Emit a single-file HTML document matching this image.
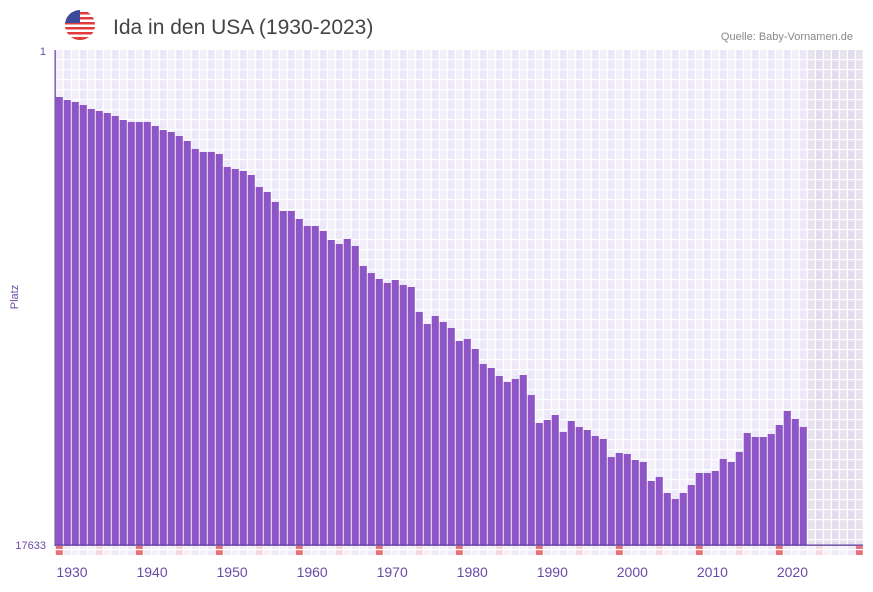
<!DOCTYPE html>
<html><head><meta charset="utf-8"><style>
body{margin:0;background:#fff;width:873px;height:587px;overflow:hidden;font-family:"Liberation Sans",sans-serif}
</style></head><body>
<svg id="s" width="873" height="587" xmlns="http://www.w3.org/2000/svg">
<defs><clipPath id="fc"><circle cx="80" cy="25" r="15"/></clipPath></defs>
<g clip-path="url(#fc)">
<rect x="65" y="10" width="30" height="30" fill="#fff"/>
<rect x="65" y="12" width="30" height="2.5" fill="#e23b3b"/>
<rect x="65" y="17" width="30" height="2.5" fill="#e23b3b"/>
<rect x="65" y="22" width="30" height="2.5" fill="#e23b3b"/>
<rect x="65" y="27" width="30" height="2.5" fill="#e23b3b"/>
<rect x="65" y="32" width="30" height="2.5" fill="#e23b3b"/>
<rect x="65" y="37" width="30" height="3" fill="#e23b3b"/>
<rect x="65" y="10" width="15" height="13" fill="#3b4a9a"/>
</g>
<text x="113" y="34" font-size="21" fill="#444">Ida in den USA (1930-2023)</text>
<text x="853" y="40" font-size="11" fill="#888" text-anchor="end">Quelle: Baby-Vornamen.de</text>
<text x="46" y="55" font-size="11" fill="#6a4aa8" text-anchor="end">1</text>
<text x="46" y="549" font-size="11" fill="#6a4aa8" text-anchor="end">17633</text>
<text x="18" y="297" font-size="11" fill="#6a4aa8" text-anchor="middle" transform="rotate(-90 18 297)">Platz</text>
<g id="g"></g>
</svg>
<script>
var g=document.getElementById('g'),ns='http://www.w3.org/2000/svg',h='';
function r(x,y,w,hh,c){h+='<rect x="'+x+'" y="'+y+'" width="'+w+'" height="'+hh+'" fill="'+c+'"/>';}
var x0=55.3,W=8;
for(var i=0;i<101;i++){var x=x0+i*W;var c=(i%2)?'#ede8f8':'#f3effb';if(i>=94)c=(i%2)?'#e2dded':'#e6e2ee';r(x,50,W,495,c);
 var m=(i%10==0)?'#e8727a':(i%5==0)?'#f5d8e0':(i%2?'#efe9f8':'#f5f2fb');r(x+0.5,546,7,9,m);}
for(var y=50;y<545;y+=10){r(x0,y+9,808,1.2,'#fff');}
for(var i=0;i<=101;i++){r(x0+i*W-0.6,50,1.2,495,'#fff');}
var t=[97,100,102,105,109,111,113,116,120,122,122,122,126,130,132,136,141,149,152,152,154,167,169,171,175,187,192,202,211,211,219,226,226,231,240,244,239,246,266,273,279,283,280,285,287,312,324,316,322,328,341,339,349,364,368,376,382,379,375,395,423,420,415,432,421,427,430,436,439,457,453,454,460,462,481,477,493,499,493,485,473,473,471,459,462,452,433,437,437,434,425,411,419,427];
for(var i=0;i<t.length;i++){r(x0+i*W+0.4,t[i],7.1,545-t[i],'#8e55c7');}
r(54.5,50,1.3,496,'#6a4aa8');r(55,544.5,808,1.3,'#5b3a9a');
for(var k=0;k<=9;k++){h+='<text x="'+(72+80.05*k)+'" y="577" font-size="14" fill="#6a4aa8" text-anchor="middle">'+(1930+10*k)+'</text>';}
g.innerHTML=h;
</script>
</body></html>
